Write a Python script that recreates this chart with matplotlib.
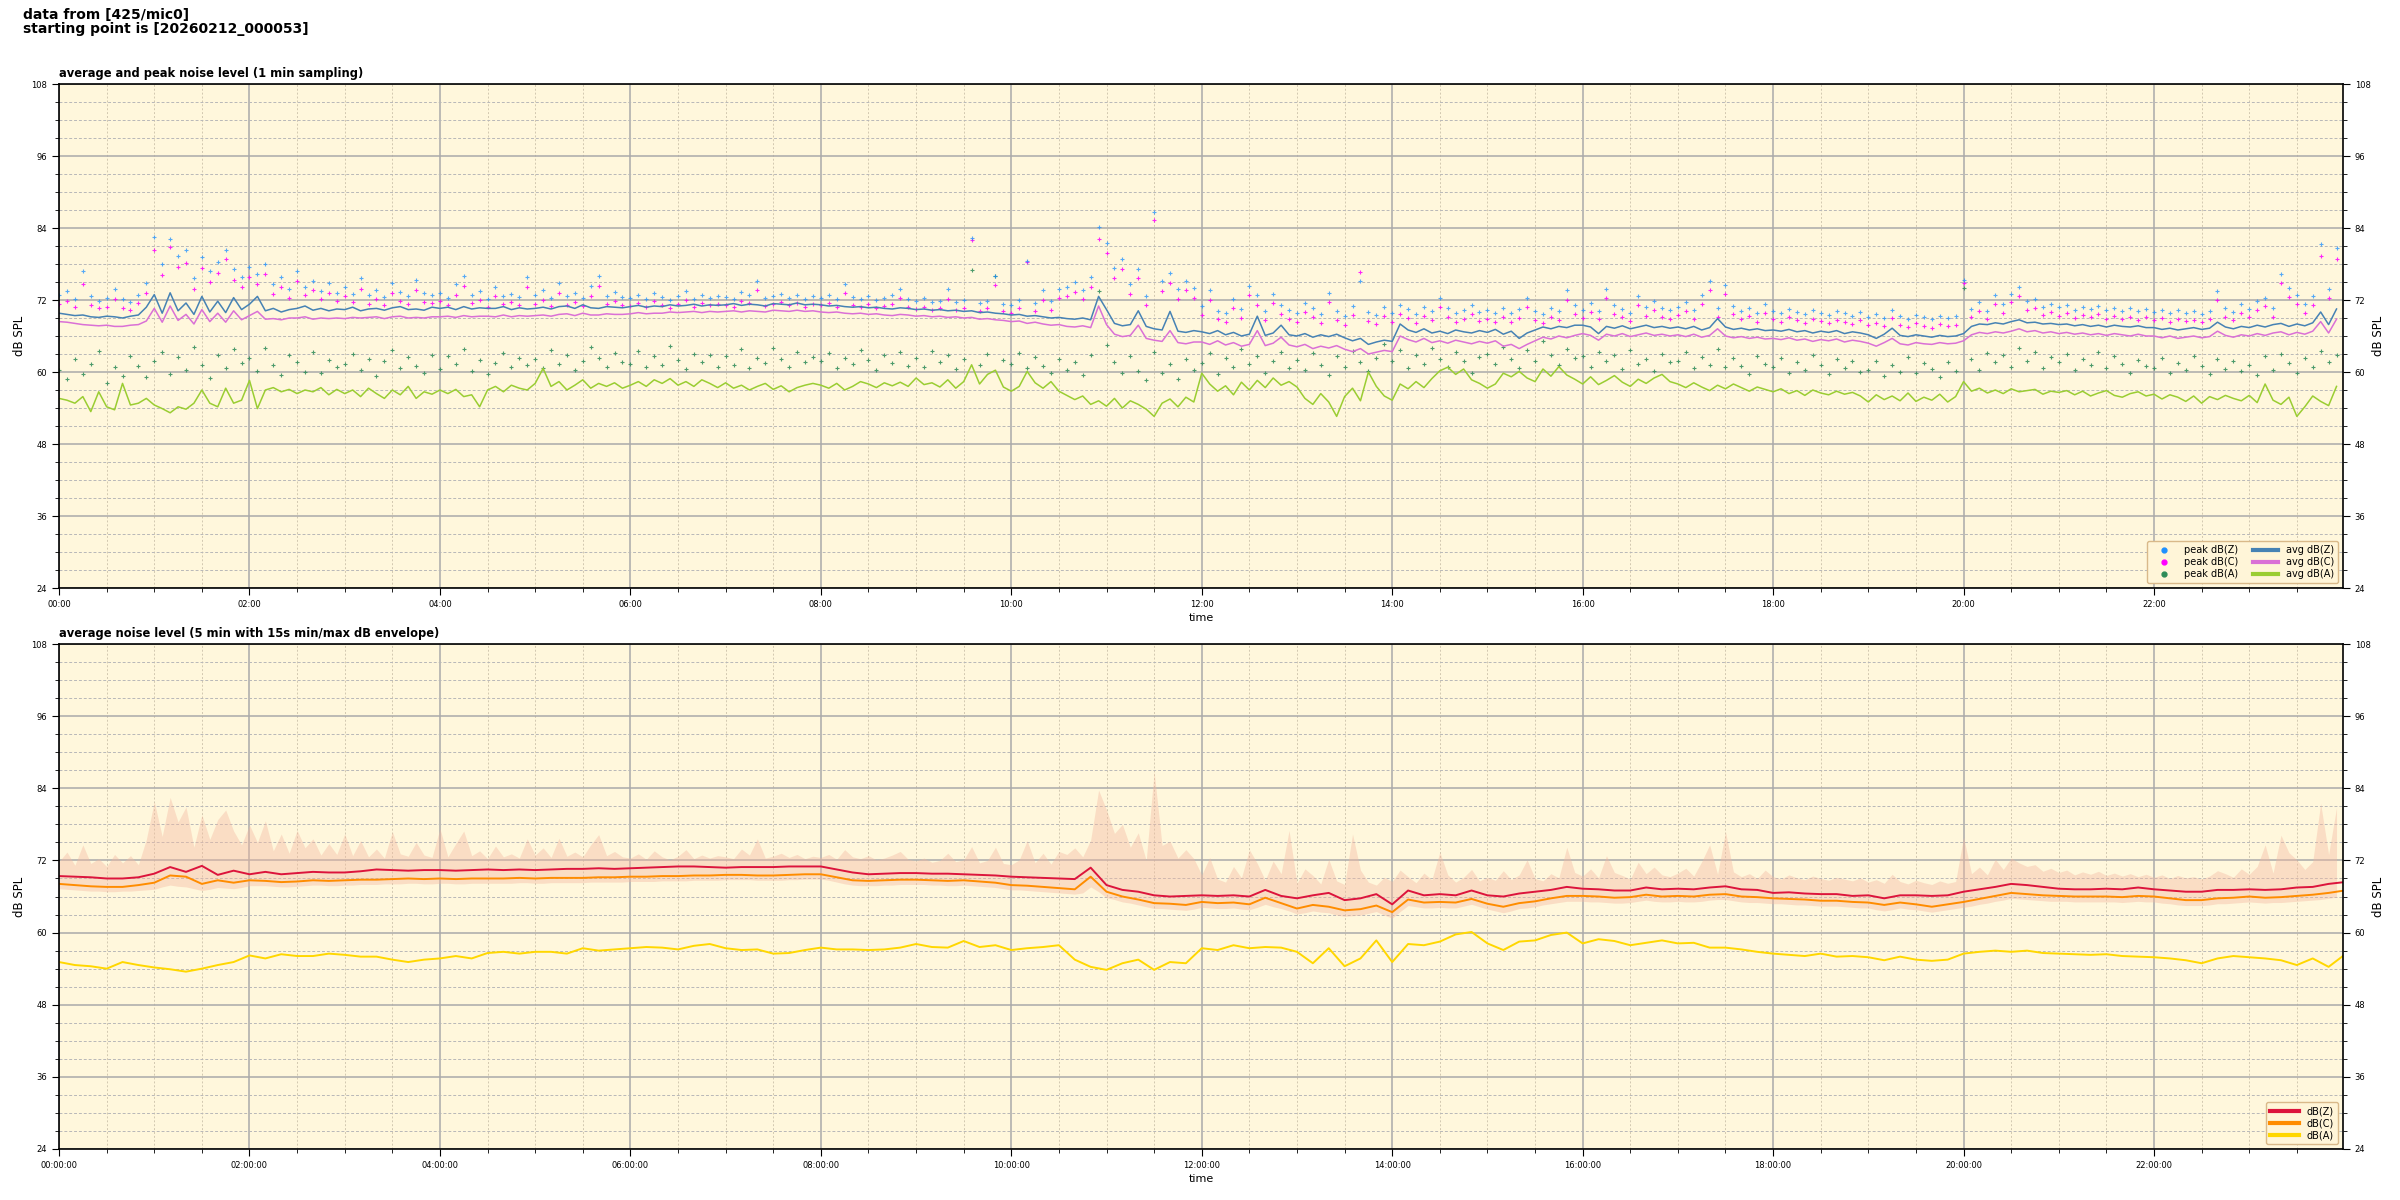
import matplotlib
matplotlib.use('Agg')
import matplotlib.pyplot as plt
import matplotlib.dates as mdates
from matplotlib.lines import Line2D
from matplotlib.ticker import MultipleLocator
import numpy as np
import pandas as pd

# ---- 1 min panel (read every 5 min) ----
avg_z = [
    69.8, 69.6, 69.4, 69.5, 69.2, 69.1, 69.3, 69.2, 69.0, 69.3, 69.5, 70.8,
    72.9, 69.8, 73.2, 70.2, 71.5, 69.6, 72.6, 70.0, 71.8, 69.9, 72.4, 70.4,
    71.3, 72.6, 70.2, 70.6, 70.0, 70.4, 70.6, 71.0, 70.3, 70.6, 70.2, 70.5,
    70.4, 70.8, 70.2, 70.5, 70.6, 70.3, 70.7, 70.9, 70.4, 70.5, 70.3, 70.8,
    70.6, 70.8, 70.4, 70.9, 70.5, 70.7, 70.6, 70.6, 70.9, 70.4, 70.7, 70.5,
    70.6, 70.8, 70.5, 70.9, 71.0, 70.6, 71.2, 70.7, 70.6, 70.9, 70.8, 70.7,
    70.9, 71.1, 70.8, 71.0, 70.9, 71.2, 71.0, 71.1, 71.3, 71.0, 71.2, 71.1,
    71.2, 71.4, 71.1, 71.3, 71.2, 71.0, 71.4, 71.3, 71.2, 71.5, 71.2, 71.3,
    71.2, 71.0, 71.1, 70.9, 70.8, 70.9, 70.7, 70.8, 70.6, 70.5, 70.7, 70.6,
    70.4, 70.5, 70.3, 70.4, 70.2, 70.3, 70.1, 70.2, 69.9, 70.0, 69.8, 69.7,
    69.5, 69.6, 69.3, 69.4, 69.2, 69.0, 69.1, 68.9, 68.8, 69.0, 68.7, 72.6,
    70.4, 68.1, 67.7, 67.9, 70.2, 67.6, 67.2, 67.0, 70.1, 66.8, 66.6, 66.9,
    66.7, 66.4, 66.9, 66.2, 66.6, 66.0, 66.3, 69.3, 66.1, 66.5, 67.8, 66.2,
    66.0, 66.4, 65.8, 66.2, 65.9, 66.3, 65.7, 65.2, 65.6, 64.6, 65.0, 65.3,
    65.1, 68.0, 67.0, 66.6, 67.2, 66.5, 66.8, 66.4, 67.0, 66.7, 66.5, 66.9,
    66.6, 67.1, 66.3, 66.8, 65.6, 66.5, 67.0, 67.5, 67.2, 67.6, 67.4, 67.8,
    67.8, 67.5, 66.4, 67.6, 67.3, 67.7, 67.2, 67.5, 67.8, 67.4, 67.6, 67.3,
    67.5, 67.2, 67.6, 67.0, 67.4, 68.9, 67.5, 67.1, 67.3, 67.0, 67.2, 66.9,
    67.0, 66.8, 67.1, 66.7, 66.9, 66.5, 66.8, 66.6, 66.9, 66.4, 66.7, 66.5,
    66.2, 65.6, 66.3, 67.3, 66.1, 65.9, 66.2, 66.0, 65.8, 66.1, 65.9, 66.0,
    66.4, 67.6, 68.0, 67.9, 68.2, 68.0, 68.4, 68.7, 68.2, 68.3, 68.0, 68.1,
    67.9, 68.0, 67.7, 67.9, 67.6, 67.8, 67.5, 67.8, 67.6, 67.5, 67.7, 67.4,
    67.4, 67.1, 67.3, 67.0, 67.2, 67.4, 67.1, 67.3, 68.3, 67.5, 67.2, 67.6,
    67.4, 67.8, 67.5, 67.9, 68.1, 67.6, 68.0, 67.7, 68.2, 70.0, 67.9, 70.5,
]
avg_c = [
    68.4, 68.3, 68.1, 67.9, 67.8, 67.7, 67.8, 67.6, 67.6, 67.8, 67.9, 68.5,
    70.6, 68.3, 71.0, 68.6, 69.6, 68.0, 70.4, 68.4, 69.8, 68.3, 70.2, 68.7,
    69.4, 70.1, 68.8, 68.9, 68.7, 69.0, 69.0, 69.2, 68.8, 69.0, 68.9, 69.0,
    68.9, 69.1, 69.0, 69.1, 69.2, 68.9, 69.2, 69.3, 69.0, 69.1, 69.0, 69.2,
    69.2, 69.3, 69.1, 69.4, 69.2, 69.3, 69.3, 69.2, 69.5, 69.2, 69.4, 69.3,
    69.4, 69.5, 69.3, 69.6, 69.7, 69.4, 69.8, 69.5, 69.5, 69.7, 69.6, 69.6,
    69.7, 69.9, 69.7, 69.8, 69.8, 70.0, 69.9, 70.0, 70.1, 69.9, 70.1, 70.0,
    70.1, 70.2, 70.0, 70.2, 70.1, 70.0, 70.3, 70.2, 70.1, 70.3, 70.1, 70.2,
    70.0, 69.9, 70.0, 69.8, 69.7, 69.8, 69.6, 69.7, 69.5, 69.4, 69.6, 69.5,
    69.3, 69.4, 69.2, 69.3, 69.1, 69.2, 69.0, 69.1, 68.8, 68.9, 68.7, 68.6,
    68.4, 68.5, 68.1, 68.3, 68.0, 67.8, 67.9, 67.6, 67.5, 67.7, 67.4, 71.0,
    67.9, 66.3, 65.9, 66.1, 67.8, 65.6, 65.3, 65.1, 66.9, 64.9, 64.7, 65.0,
    65.0, 64.6, 65.2, 64.5, 64.9, 64.3, 64.6, 66.9, 64.4, 64.8, 65.8, 64.5,
    64.2, 64.6, 63.9, 64.3, 64.0, 64.4, 63.8, 63.4, 63.9, 63.0, 63.3, 63.6,
    63.4, 66.0, 65.4, 65.0, 65.6, 64.9, 65.2, 64.8, 65.3, 65.0, 64.7, 65.1,
    64.8, 65.2, 64.3, 64.6, 63.9, 64.6, 65.2, 65.8, 65.5, 66.0, 65.7, 66.1,
    66.4, 66.1, 65.3, 66.3, 66.0, 66.4, 65.9, 66.2, 66.5, 66.1, 66.3, 66.0,
    66.2, 65.9, 66.3, 65.8, 66.1, 67.2, 66.0, 65.7, 65.9, 65.6, 65.8, 65.5,
    65.6, 65.4, 65.7, 65.3, 65.5, 65.1, 65.4, 65.2, 65.5, 65.0, 65.3, 65.1,
    64.8, 64.3, 64.9, 65.6, 64.7, 64.5, 64.9, 64.7, 64.6, 64.9, 64.7, 64.8,
    65.2, 66.2, 66.6, 66.4, 66.7, 66.5, 66.8, 67.2, 66.7, 66.9, 66.5, 66.7,
    66.4, 66.6, 66.3, 66.5, 66.2, 66.4, 66.1, 66.4, 66.2, 66.0, 66.3, 66.0,
    66.0, 65.7, 66.0, 65.6, 65.8, 66.0, 65.7, 65.9, 66.8, 66.1, 65.8, 66.2,
    66.0, 66.4, 66.1, 66.5, 66.7, 66.2, 66.6, 66.3, 66.8, 68.4, 66.5, 68.8,
]
avg_a = [
    55.6, 55.3, 54.8, 55.9, 53.4, 56.7, 54.2, 53.7, 58.1, 54.5, 54.8, 55.6,
    54.5, 53.9, 53.2, 54.2, 53.8, 54.8, 57.0, 54.8, 54.2, 57.3, 54.8, 55.3,
    58.6, 53.9, 57.0, 57.4, 56.7, 57.1, 56.4, 57.0, 56.7, 57.4, 56.2, 57.1,
    56.4, 57.0, 55.9, 57.3, 56.4, 55.6, 57.0, 56.2, 57.6, 55.6, 56.7, 56.3,
    57.0, 56.4, 57.1, 55.9, 56.2, 54.2, 57.0, 57.6, 56.7, 57.8, 57.3, 57.0,
    58.1, 60.6, 57.6, 58.4, 57.0, 57.8, 58.7, 57.3, 58.1, 57.6, 58.2, 57.3,
    57.8, 58.4, 57.6, 58.7, 58.1, 58.9, 57.8, 58.4, 57.6, 58.7, 58.1, 57.4,
    58.2, 57.3, 57.8, 57.0, 57.6, 58.1, 57.1, 57.7, 56.7, 57.4, 57.8, 58.1,
    57.8, 57.3, 58.1, 57.0, 57.6, 58.4, 58.0, 57.4, 58.2, 57.7, 58.3, 57.6,
    59.0, 57.9, 58.2, 57.5, 58.7, 57.3, 58.4, 61.2, 58.0, 59.6, 60.3, 57.5,
    56.8, 57.6, 60.1, 58.2, 57.3, 58.4, 56.8, 56.1, 55.4, 56.0, 54.6, 55.2,
    54.3, 55.6, 54.0, 55.2, 54.6, 53.8, 52.6, 54.8, 55.5, 54.2, 55.8, 55.0,
    59.8, 58.0, 56.8, 57.7, 56.2, 58.3, 57.0, 58.6, 57.4, 59.0, 57.8, 58.4,
    57.5, 55.6, 54.6, 56.4, 55.0, 52.6, 55.9, 57.3, 55.2, 60.0, 57.6, 56.0,
    55.3, 58.0, 57.2, 58.4, 57.4, 58.9, 60.2, 60.8, 59.6, 60.5, 58.7, 58.1,
    57.3, 58.0, 59.8, 59.2, 60.1, 59.0, 58.4, 60.5, 59.3, 60.9, 59.5, 58.8,
    58.0, 59.2, 57.9, 58.6, 59.4, 58.3, 57.6, 58.8, 58.1, 59.0, 59.6, 58.4,
    58.0, 57.4, 58.2, 57.5, 56.9, 57.8, 57.2, 58.0, 57.4, 56.8, 57.5, 57.1,
    56.7, 57.2, 56.4, 56.9, 56.1, 57.0, 56.5, 56.2, 56.8, 56.3, 56.6, 56.0,
    55.0, 56.2, 55.4, 56.0, 55.2, 56.5, 55.1, 55.8, 55.3, 56.3, 55.0, 55.9,
    58.4, 56.8, 57.3, 56.5, 57.0, 56.4, 57.2, 56.7, 56.9, 57.1, 56.3, 56.8,
    56.6, 56.9, 56.2, 56.8, 56.0, 56.5, 56.9, 56.1, 55.8, 56.4, 56.7, 56.0,
    56.3, 55.5, 56.2, 55.8, 55.1, 56.0, 54.8, 55.9, 55.4, 56.1, 55.6, 55.2,
    56.1, 54.9, 58.0, 55.3, 54.6, 55.8, 52.6, 54.2, 56.0, 55.1, 54.4, 57.6,
]
peak_z = [
    72.8, 73.5, 72.2, 76.8, 72.6, 71.9, 72.4, 73.8, 72.1, 71.7, 72.9, 74.9,
    82.5, 78.0, 82.2, 79.4, 80.3, 75.6, 79.1, 76.8, 78.4, 80.3, 77.2, 75.8,
    77.5, 76.4, 78.0, 74.6, 75.9, 73.8, 76.9, 74.2, 75.1, 73.5, 74.8, 73.2,
    74.1, 73.0, 75.6, 72.8, 73.7, 72.5, 74.9, 73.4, 72.6, 75.3, 73.1, 72.9,
    73.2, 72.4, 74.6, 76.0, 72.9, 73.5, 72.1, 74.2, 72.7, 73.0, 72.5, 75.9,
    72.8, 73.6, 72.3, 74.9, 72.6, 73.1, 72.4, 74.3, 76.0, 72.7, 73.4, 72.5,
    72.3, 72.8, 72.1, 73.2, 72.5, 72.0, 72.6, 73.5, 72.2, 72.9, 72.4, 72.7,
    72.5, 72.2, 73.4, 72.8, 75.1, 72.3, 72.6, 73.0, 72.4, 72.9, 72.2, 72.6,
    72.4, 72.9, 72.1, 74.6, 72.5, 72.2, 72.7, 72.0, 72.3, 72.8, 73.9, 72.1,
    71.8, 72.3, 71.6, 71.9, 73.8, 71.7, 72.0, 82.3, 71.5, 71.9, 76.0, 71.4,
    71.2, 72.0, 78.5, 71.5, 73.6, 71.8, 73.9, 74.2, 75.0, 73.6, 75.8, 84.1,
    81.5, 77.4, 78.8, 74.6, 77.2, 72.6, 86.7, 75.1, 76.5, 73.8, 75.2, 74.0,
    71.0, 73.6, 70.2, 69.8, 72.1, 70.5, 74.4, 72.8, 70.1, 73.0, 71.2, 70.4,
    69.8, 71.5, 70.6, 69.6, 73.2, 70.2, 69.4, 71.0, 75.1, 70.0, 69.5, 70.8,
    69.9, 71.2, 70.5, 69.7, 70.9, 70.1, 72.4, 70.6, 69.8, 70.4, 71.1, 70.0,
    70.3, 69.8, 70.7, 69.9, 70.5, 72.3, 70.2, 69.7, 70.6, 70.1, 73.6, 71.2,
    70.4, 71.5, 70.2, 73.8, 71.1, 70.5, 69.9, 72.7, 70.8, 71.9, 70.6, 70.3,
    70.9, 71.6, 70.3, 72.8, 75.2, 70.6, 74.5, 71.0, 70.2, 70.7, 69.8, 71.3,
    70.2, 69.8, 70.5, 70.0, 69.6, 70.3, 69.9, 69.5, 70.1, 69.8, 69.4, 70.0,
    69.2, 69.6, 69.0, 70.4, 69.3, 68.9, 69.5, 69.1, 68.8, 69.4, 69.0, 69.3,
    75.4, 70.5, 71.6, 70.2, 72.8, 71.3, 73.0, 74.2, 71.8, 72.1, 70.9, 71.4,
    70.8, 71.2, 70.4, 70.9, 70.5, 71.0, 70.3, 70.7, 70.2, 70.6, 70.1, 70.5,
    70.0, 70.4, 69.8, 70.3, 69.9, 70.1, 69.7, 70.2, 73.5, 70.6, 70.0, 71.3,
    70.5, 71.8, 72.4, 70.6, 76.4, 74.0, 72.9, 71.3, 72.6, 81.3, 73.8, 80.7,
]
peak_c = [
    71.4, 71.9, 70.8, 74.6, 71.2, 70.6, 70.9, 72.1, 70.7, 70.4, 71.5, 73.2,
    80.3, 76.2, 80.8, 77.5, 78.1, 73.9, 77.4, 75.0, 76.5, 78.8, 75.3, 74.1,
    75.8, 74.6, 76.3, 73.0, 74.2, 72.4, 75.1, 72.8, 73.6, 72.1, 73.2, 71.8,
    72.6, 71.7, 73.9, 71.4, 72.2, 71.1, 73.2, 71.9, 71.3, 73.6, 71.7, 71.5,
    71.8, 71.1, 72.9, 74.3, 71.5, 72.0, 70.8, 72.6, 71.3, 71.6, 71.1, 74.2,
    71.4, 72.0, 71.0, 73.2, 71.2, 71.7, 71.0, 72.7, 74.3, 71.3, 71.9, 71.1,
    71.0, 71.5, 70.8, 71.8, 71.2, 70.7, 71.3, 72.0, 70.9, 71.5, 71.1, 71.4,
    71.2, 70.9, 71.9, 71.5, 73.6, 71.0, 71.3, 71.6, 71.1, 71.5, 70.9, 71.3,
    71.1, 71.5, 70.8, 73.1, 71.2, 70.9, 71.3, 70.7, 71.0, 71.4, 72.4, 70.8,
    70.5, 70.9, 70.3, 70.6, 72.2, 70.4, 70.7, 82.0, 70.2, 70.6, 74.5, 70.1,
    69.9, 70.6, 78.4, 70.2, 72.0, 70.4, 72.3, 72.7, 73.4, 72.1, 74.2, 82.2,
    79.8, 75.6, 77.1, 73.0, 75.6, 71.1, 85.3, 73.5, 74.9, 72.2, 73.6, 72.4,
    69.5, 72.0, 68.8, 68.4, 70.6, 69.0, 72.9, 71.2, 68.7, 71.5, 69.7, 68.9,
    68.3, 70.0, 69.1, 68.1, 71.6, 68.7, 67.9, 69.5, 76.6, 68.5, 68.0, 69.3,
    68.4, 69.7, 69.0, 68.2, 69.4, 68.6, 70.9, 69.1, 68.3, 68.9, 69.6, 68.5,
    68.8, 68.3, 69.2, 68.4, 69.0, 70.8, 68.7, 68.2, 69.1, 68.6, 72.0, 69.7,
    69.0, 70.0, 68.8, 72.3, 69.6, 69.1, 68.5, 71.2, 69.4, 70.4, 69.2, 68.9,
    69.5, 70.1, 68.9, 71.3, 73.7, 69.2, 73.0, 69.6, 68.8, 69.3, 68.4, 69.9,
    68.8, 68.4, 69.1, 68.6, 68.2, 68.9, 68.5, 68.1, 68.7, 68.4, 68.0, 68.6,
    67.8, 68.2, 67.6, 69.0, 67.9, 67.5, 68.1, 67.7, 67.4, 68.0, 67.6, 67.9,
    74.9, 69.1, 70.2, 68.8, 71.4, 69.9, 71.6, 72.7, 70.4, 70.7, 69.5, 70.0,
    69.4, 69.8, 69.0, 69.5, 69.1, 69.6, 68.9, 69.3, 68.8, 69.2, 68.7, 69.1,
    68.6, 69.0, 68.4, 68.9, 68.5, 68.7, 68.3, 68.8, 72.0, 69.2, 68.6, 69.9,
    69.1, 70.4, 71.0, 69.2, 74.9, 72.5, 71.4, 69.9, 71.1, 79.4, 72.3, 78.9,
]
peak_a = [
    60.4, 58.9, 62.1, 59.6, 61.3, 63.5, 58.2, 60.8, 59.4, 62.7, 61.0, 59.1,
    61.8, 63.4, 59.7, 62.5, 60.3, 64.1, 61.2, 59.0, 62.9, 60.6, 63.8, 61.5,
    62.4, 60.2, 64.0, 61.1, 59.5, 62.8, 61.7, 60.0, 63.3, 59.8, 62.0, 60.9,
    61.4, 63.0, 60.4, 62.2, 59.3, 61.8, 63.6, 60.7, 62.5, 61.0, 59.9, 62.8,
    60.5, 62.6, 61.3, 63.9, 60.1, 62.0, 59.6, 61.5, 63.2, 60.8, 62.4, 61.1,
    62.2, 60.6, 63.7, 61.4, 62.9, 60.3, 61.9, 64.2, 62.4, 60.9, 63.1, 61.6,
    61.3, 63.5, 60.8, 62.6, 61.2, 64.3, 62.0, 60.5, 63.0, 61.7, 62.8, 60.9,
    62.7, 61.2, 63.8, 60.6, 62.3, 61.5, 64.0, 62.1, 60.9, 63.3, 61.6, 62.5,
    61.9, 63.1, 60.7, 62.4, 61.3, 63.7, 62.0, 60.4, 62.8, 61.5, 63.4, 61.0,
    62.3, 60.8, 63.5, 61.6, 62.9, 60.5, 62.1, 77.0, 61.2, 63.0, 76.0, 62.0,
    61.4, 63.2, 60.6, 62.5, 61.0, 59.8, 62.2, 60.4, 61.7, 59.5, 62.8, 73.5,
    64.5, 61.6, 59.8, 62.6, 60.2, 58.7, 63.3, 59.9, 61.4, 58.9, 62.1, 60.3,
    61.5, 63.2, 59.7, 62.4, 60.8, 63.9, 61.3, 62.7, 59.9, 61.8, 63.4, 60.6,
    62.0, 60.4, 63.1, 61.2, 59.5, 62.6, 60.9, 63.5, 61.6, 60.1, 62.3, 64.7,
    61.8, 63.6, 60.6, 62.9, 61.4, 64.0, 62.2, 60.8, 63.3, 61.9, 59.8, 62.5,
    63.0, 61.4, 64.2, 62.1, 60.7, 63.6, 61.9, 65.1, 62.8, 61.2, 63.9, 62.4,
    62.6, 60.9, 63.4, 61.8, 62.9, 60.5, 63.7, 61.4, 62.2, 60.2, 63.0, 61.6,
    61.9, 63.3, 60.6, 62.5, 61.2, 63.8, 60.9, 62.3, 61.0, 59.7, 62.6, 61.4,
    60.8, 62.4, 59.9, 61.7, 60.4, 62.9, 61.1, 59.6, 62.1, 60.6, 61.8, 60.0,
    60.3, 61.9, 59.4, 61.2, 60.0, 62.5, 59.8, 61.5, 60.5, 59.2, 61.7, 60.1,
    74.0, 62.2, 60.4, 63.1, 61.6, 62.8, 60.9, 64.0, 61.8, 63.4, 60.7, 62.5,
    61.6, 63.0, 60.3, 62.2, 61.1, 63.4, 60.6, 62.6, 61.3, 59.9, 62.0, 61.0,
    60.7, 62.4, 59.8, 61.5, 60.3, 62.7, 61.0, 59.6, 62.1, 60.5, 61.8, 60.2,
    61.2, 59.5, 62.6, 60.4, 63.0, 61.5, 59.9, 62.3, 60.8, 63.5, 61.6, 62.8,
]

# ---- 5 min panel (lines read every 10 min, envelope every 5 min) ----
db_z = [
    69.4, 69.3, 69.2, 69.0, 69.0, 69.2,  69.8, 70.9, 70.1, 71.1, 69.6, 70.3,
    69.7, 70.1, 69.7, 69.9, 70.1, 70.0,  70.0, 70.2, 70.5, 70.4, 70.3, 70.4,
    70.4, 70.3, 70.4, 70.5, 70.4, 70.5,  70.4, 70.5, 70.6, 70.6, 70.7, 70.6,
    70.7, 70.8, 70.9, 71.0, 71.0, 70.9,  70.8, 70.9, 70.9, 70.9, 71.0, 71.0,
    71.0, 70.5, 70.0, 69.7, 69.8, 69.9,  69.9, 69.8, 69.8, 69.7, 69.6, 69.5,
    69.3, 69.2, 69.1, 69.0, 68.9, 70.8,  67.9, 67.1, 66.8, 66.2, 66.0, 66.1,
    66.2, 66.1, 66.2, 66.0, 67.1, 66.1,  65.7, 66.2, 66.6, 65.4, 65.7, 66.4,
    64.7, 67.0, 66.2, 66.4, 66.2, 67.0,  66.2, 66.0, 66.5, 66.8, 67.1, 67.6,
    67.3, 67.2, 67.0, 67.0, 67.5, 67.2,  67.3, 67.2, 67.5, 67.7, 67.2, 67.1,
    66.6, 66.7, 66.5, 66.4, 66.4, 66.1,  66.2, 65.7, 66.2, 66.2, 66.1, 66.2,
    66.8, 67.2, 67.6, 68.1, 67.9, 67.6,  67.3, 67.2, 67.2, 67.3, 67.2, 67.5,
    67.2, 67.0, 66.8, 66.8, 67.1, 67.1,  67.2, 67.1, 67.2, 67.5, 67.6, 68.1,
    68.4,
]
db_c = [
    68.1, 67.9, 67.7, 67.6, 67.6, 67.9,  68.3, 69.5, 69.3, 68.1, 68.7, 68.3,
    68.7, 68.6, 68.4, 68.5, 68.7, 68.6,  68.7, 68.8, 68.8, 68.9, 69.0, 68.9,
    69.0, 68.9, 69.0, 69.0, 69.0, 69.1,  69.0, 69.1, 69.1, 69.1, 69.2, 69.2,
    69.3, 69.3, 69.4, 69.4, 69.5, 69.5,  69.6, 69.6, 69.5, 69.5, 69.6, 69.7,
    69.7, 69.2, 68.7, 68.6, 68.7, 68.8,  68.8, 68.7, 68.6, 68.7, 68.5, 68.3,
    67.9, 67.8, 67.6, 67.4, 67.2, 69.3,  66.8, 66.0, 65.5, 64.9, 64.8, 64.6,
    65.1, 64.9, 65.0, 64.7, 65.8, 64.9,  64.0, 64.6, 64.3, 63.7, 63.9, 64.5,
    63.4, 65.5, 65.0, 65.1, 65.0, 65.6,  64.8, 64.3, 64.9, 65.2, 65.7, 66.1,
    66.1, 66.0, 65.8, 65.9, 66.3, 66.0,  66.1, 66.0, 66.3, 66.4, 66.0, 65.9,
    65.7, 65.6, 65.5, 65.3, 65.3, 65.1,  65.0, 64.6, 65.0, 64.7, 64.3, 64.7,
    65.1, 65.6, 66.1, 66.6, 66.4, 66.2,  66.1, 66.0, 66.0, 66.0, 65.9, 66.1,
    66.0, 65.7, 65.4, 65.4, 65.7, 65.8,  66.0, 65.8, 65.9, 66.1, 66.3, 66.6,
    67.0,
]
db_a = [
    55.1, 54.6, 54.4, 54.0, 55.1, 54.6,  54.2, 53.9, 53.5, 54.0, 54.6, 55.1,
    56.2, 55.7, 56.4, 56.1, 56.1, 56.5,  56.3, 56.0, 56.0, 55.5, 55.1, 55.5,
    55.7, 56.1, 55.7, 56.6, 56.8, 56.5,  56.8, 56.8, 56.5, 57.4, 57.0, 57.2,
    57.4, 57.6, 57.5, 57.2, 57.8, 58.1,  57.4, 57.1, 57.2, 56.5, 56.6, 57.1,
    57.5, 57.2, 57.2, 57.1, 57.2, 57.5,  58.1, 57.6, 57.5, 58.6, 57.6, 57.9,
    57.1, 57.4, 57.6, 57.9, 55.5, 54.3,  53.8, 54.9, 55.5, 53.8, 55.1, 54.9,
    57.4, 57.1, 57.9, 57.4, 57.6, 57.5,  56.8, 54.9, 57.4, 54.4, 55.7, 58.7,
    55.1, 58.1, 57.9, 58.5, 59.7, 60.1,  58.2, 57.1, 58.5, 58.7, 59.6, 60.0,
    58.2, 58.9, 58.6, 57.9, 58.3, 58.7,  58.2, 58.3, 57.5, 57.5, 57.2, 56.8,
    56.5, 56.3, 56.1, 56.5, 56.0, 56.1,  55.9, 55.4, 56.0, 55.5, 55.3, 55.5,
    56.5, 56.8, 57.0, 56.8, 57.0, 56.6,  56.5, 56.4, 56.3, 56.4, 56.1, 56.0,
    55.9, 55.7, 55.4, 54.9, 55.7, 56.1,  55.9, 55.7, 55.4, 54.6, 55.7, 54.3,
    56.3,
]
env_hi = [
    71.8, 73.4, 71.2, 74.6, 71.5, 72.3, 71.0, 73.0, 71.6, 72.8, 71.3, 75.5,
    81.8, 76.0, 82.5, 78.4, 80.9, 74.2, 79.6, 75.5, 78.8, 80.4, 76.9, 74.6,
    77.9, 75.0, 78.6, 73.6, 76.4, 73.2, 77.0, 74.1, 75.6, 72.9, 74.8, 73.0,
    76.4, 72.8, 75.3, 72.6, 73.9, 72.4, 76.8, 73.1, 72.7, 75.0, 72.9, 72.5,
    77.3, 72.6, 74.8, 76.9, 72.8, 73.6, 72.3, 74.4, 72.6, 73.1, 72.4, 75.6,
    72.9, 74.1, 72.5, 75.7, 72.7, 73.4, 72.6, 74.6, 76.3, 72.8, 73.5, 72.6,
    72.4, 73.1, 72.2, 73.6, 72.6, 72.1, 72.7, 73.8, 72.3, 72.9, 72.4, 72.8,
    72.6, 72.3, 73.9, 72.9, 75.6, 72.4, 72.7, 73.2, 72.5, 73.0, 72.3, 72.7,
    72.5, 73.0, 72.2, 73.8, 72.6, 72.3, 72.8, 72.1, 72.4, 72.9, 73.5, 72.2,
    71.9, 72.4, 71.7, 72.0, 73.2, 71.8, 72.1, 74.3, 71.6, 72.0, 74.2, 71.5,
    71.3, 72.1, 75.3, 71.6, 73.2, 71.4, 73.5, 73.0, 74.1, 72.6, 75.4, 83.7,
    80.4, 76.5, 78.0, 74.2, 76.6, 72.0, 86.8, 74.5, 75.2, 72.4, 73.8, 72.3,
    69.6, 72.5, 68.9, 68.4, 71.0, 69.1, 73.8, 71.5, 68.7, 71.9, 69.8, 77.0,
    68.2, 70.6, 69.5, 68.1, 72.2, 68.6, 68.0, 76.4, 70.4, 68.4, 67.9, 69.2,
    68.5, 70.4, 69.3, 68.3, 69.9, 68.8, 73.4, 69.6, 68.4, 69.2, 70.5, 68.6,
    69.2, 68.7, 70.3, 68.8, 69.6, 72.1, 69.0, 68.6, 69.8, 69.1, 74.2, 70.0,
    69.4, 70.6, 69.1, 72.8, 70.0, 69.5, 68.9, 71.7, 69.8, 70.9, 69.6, 69.3,
    69.9, 70.7, 69.4, 71.8, 74.6, 69.7, 76.8, 70.1, 69.3, 69.8, 69.0, 70.4,
    69.3, 68.9, 69.6, 69.1, 68.8, 69.4, 69.0, 68.7, 69.2, 68.9, 68.6, 69.1,
    68.4, 68.8, 68.2, 69.7, 68.5, 68.1, 68.7, 68.3, 68.0, 68.6, 68.2, 68.5,
    75.9, 69.8, 70.9, 69.6, 72.2, 70.5, 72.4, 71.6, 71.0, 71.3, 70.2, 70.7,
    70.0, 70.4, 69.6, 70.1, 69.7, 70.2, 69.5, 69.9, 69.4, 69.8, 69.3, 69.7,
    69.2, 69.6, 69.0, 69.5, 69.1, 69.3, 68.9, 69.4, 70.3, 69.8, 69.2, 70.6,
    69.7, 71.0, 74.6, 69.9, 76.2, 73.3, 72.1, 70.5, 71.8, 81.5, 73.0, 80.8,
]
env_lo = [
    67.3, 67.2, 67.1, 67.0, 66.9, 66.9, 66.8, 66.8, 66.9, 66.9, 67.0, 67.1,
    67.2, 67.6, 67.9, 67.7, 67.6, 67.3, 67.0, 67.2, 67.5, 67.4, 67.3, 67.5,
    67.8, 67.8, 67.8, 67.7, 67.6, 67.6, 67.7, 67.8, 67.9, 67.9, 67.8, 67.8,
    67.9, 67.9, 68.0, 68.0, 68.0, 68.1, 68.1, 68.1, 68.2, 68.2, 68.1, 68.1,
    68.2, 68.2, 68.1, 68.1, 68.2, 68.2, 68.2, 68.2, 68.2, 68.2, 68.3, 68.3,
    68.2, 68.2, 68.3, 68.3, 68.3, 68.3, 68.3, 68.4, 68.4, 68.4, 68.4, 68.4,
    68.5, 68.5, 68.5, 68.5, 68.6, 68.6, 68.6, 68.6, 68.7, 68.7, 68.7, 68.7,
    68.8, 68.8, 68.8, 68.8, 68.7, 68.7, 68.7, 68.7, 68.8, 68.8, 68.9, 68.9,
    68.9, 68.7, 68.4, 68.1, 67.9, 67.8, 67.8, 67.8, 67.9, 67.9, 68.0, 68.0,
    68.0, 68.0, 67.9, 67.9, 67.8, 67.8, 67.9, 67.8, 67.7, 67.6, 67.5, 67.3,
    67.1, 67.1, 67.0, 66.9, 66.8, 66.7, 66.6, 66.5, 66.4, 66.6, 67.6, 66.8,
    65.8, 65.5, 65.1, 64.9, 64.6, 64.3, 64.0, 64.0, 63.9, 63.8, 63.7, 63.9,
    64.2, 64.1, 64.0, 64.0, 64.1, 63.9, 63.8, 64.2, 64.7, 64.3, 64.0, 63.6,
    63.1, 63.3, 63.6, 63.4, 63.3, 62.9, 62.7, 62.8, 62.9, 63.2, 63.5, 62.9,
    62.4, 63.5, 64.5, 64.3, 64.1, 64.1, 64.2, 64.1, 64.1, 64.4, 64.7, 64.3,
    63.9, 63.6, 63.3, 63.6, 64.0, 64.1, 64.3, 64.6, 64.8, 65.0, 65.2, 65.2,
    65.2, 65.1, 65.1, 65.0, 64.9, 64.9, 65.0, 65.2, 65.4, 65.2, 65.1, 65.1,
    65.2, 65.1, 65.1, 65.2, 65.4, 65.5, 65.5, 65.3, 65.1, 65.0, 65.0, 64.9,
    64.8, 64.8, 64.7, 64.6, 64.6, 64.5, 64.4, 64.4, 64.4, 64.3, 64.2, 64.1,
    64.1, 63.8, 63.6, 63.8, 64.1, 63.9, 63.8, 63.6, 63.4, 63.6, 63.8, 64.0,
    64.2, 64.4, 64.7, 64.9, 65.2, 65.4, 65.7, 65.6, 65.5, 65.4, 65.3, 65.2,
    65.2, 65.2, 65.1, 65.1, 65.1, 65.1, 65.1, 65.1, 65.0, 65.1, 65.2, 65.1,
    65.1, 64.9, 64.8, 64.6, 64.5, 64.5, 64.5, 64.6, 64.8, 64.8, 64.9, 65.0,
    65.1, 65.0, 64.9, 65.0, 65.0, 65.1, 65.2, 65.3, 65.4, 65.5, 65.7, 65.9,
]

start = pd.Timestamp('2026-02-12 00:00:00')
t5 = pd.date_range(start, periods=len(avg_z), freq='5min')
t10 = pd.date_range(start, periods=len(db_z), freq='10min')
end = start + pd.Timedelta(hours=23, minutes=59)

BG = '#fff7dc'
TICK = 6
LAB = 8.5

fig = plt.figure(figsize=(24, 12), dpi=100)
ax1 = fig.add_axes([0.0246, 0.51, 0.9516, 0.42])
ax2 = fig.add_axes([0.0246, 0.0425, 0.9516, 0.4208])

fig.text(0.0095, 0.993, 'data from [425/mic0]\nstarting point is [20260212_000053]',
         ha='left', va='top', fontsize=10, fontweight='bold', linespacing=1.0)


def style(ax, fmt, title):
    ax.set_facecolor(BG)
    ax.set_xlim(start, end)
    ax.set_ylim(24, 108)
    ax.yaxis.set_major_locator(MultipleLocator(12))
    ax.yaxis.set_minor_locator(MultipleLocator(3))
    ax.xaxis.set_major_locator(mdates.HourLocator(byhour=range(0, 24, 2)))
    ax.xaxis.set_minor_locator(mdates.MinuteLocator(byminute=[0, 30]))
    ax.xaxis.set_major_formatter(mdates.DateFormatter(fmt))
    ax.grid(which='major', color='#aaaaaa', lw=1.1, ls='-')
    ax.grid(which='minor', axis='y', color='#b8b8b8', lw=0.7, ls=(0, (3, 2)))
    ax.grid(which='minor', axis='x', color='#d2c8b0', lw=0.7, ls=(0, (2, 2)))
    ax.set_axisbelow(True)
    ax.tick_params(which='both', labelsize=TICK, direction='out')
    ax.tick_params(axis='y', which='both', right=True, labelright=True)
    ax.tick_params(which='major', length=5)
    ax.tick_params(which='minor', length=3)
    for s in ax.spines.values():
        s.set_linewidth(1.2)
    ax.set_xlabel('time', fontsize=8, labelpad=3)
    ax.set_ylabel('dB SPL', fontsize=LAB)
    ax.set_title(title, loc='left', fontsize=8.3, fontweight='bold', pad=5)
    # right-hand axis label
    ax.text(1.0155, 0.5, 'dB SPL', transform=ax.transAxes, rotation=90,
            ha='center', va='center', fontsize=LAB)


# top: peaks + averages
ax1.plot(t5, peak_a, '+', color='#2e8b57', ms=3.5, mew=0.8, alpha=0.85)
ax1.plot(t5, peak_c, '+', color='#ff00ff', ms=3.5, mew=0.8, alpha=0.85)
ax1.plot(t5, peak_z, '+', color='#1e90ff', ms=3.5, mew=0.8, alpha=0.75)
ax1.plot(t5, avg_a, color='#9acd32', lw=1.1)
ax1.plot(t5, avg_c, color='#da70d6', lw=1.1)
ax1.plot(t5, avg_z, color='#4682b4', lw=1.1)
style(ax1, '%H:%M', 'average and peak noise level (1 min sampling)')

handles = [
    Line2D([], [], ls='', marker='o', ms=3.5, color='#1e90ff', label='peak dB(Z)'),
    Line2D([], [], ls='', marker='o', ms=3.5, color='#ff00ff', label='peak dB(C)'),
    Line2D([], [], ls='', marker='o', ms=3.5, color='#2e8b57', label='peak dB(A)'),
    Line2D([], [], lw=3, color='#4682b4', label='avg dB(Z)'),
    Line2D([], [], lw=3, color='#da70d6', label='avg dB(C)'),
    Line2D([], [], lw=3, color='#9acd32', label='avg dB(A)'),
]
ax1.legend(handles=handles, loc='lower right', ncol=2, fontsize=7,
           facecolor='#fff5d8', edgecolor='#d9b98a', framealpha=1,
           handlelength=2.6, columnspacing=1.5, borderaxespad=0.5,
           labelspacing=0.2)

# bottom: 5 min averages with envelope
ax2.fill_between(t5, env_lo, env_hi, color='#f4b8a0', alpha=0.4, lw=0)
ax2.plot(t10, db_a, color='#ffd700', lw=1.4)
ax2.plot(t10, db_c, color='#ff8c00', lw=1.4)
ax2.plot(t10, db_z, color='#dc143c', lw=1.4)
style(ax2, '%H:%M:%S', 'average noise level (5 min with 15s min/max dB envelope)')

handles2 = [
    Line2D([], [], lw=3, color='#dc143c', label='dB(Z)'),
    Line2D([], [], lw=3, color='#ff8c00', label='dB(C)'),
    Line2D([], [], lw=3, color='#ffd700', label='dB(A)'),
]
ax2.legend(handles=handles2, loc='lower right', fontsize=7,
           facecolor='#fff5d8', edgecolor='#d9b98a', framealpha=1,
           handlelength=3, borderaxespad=0.5, labelspacing=0.2)

fig.savefig('out.png', dpi=100)
